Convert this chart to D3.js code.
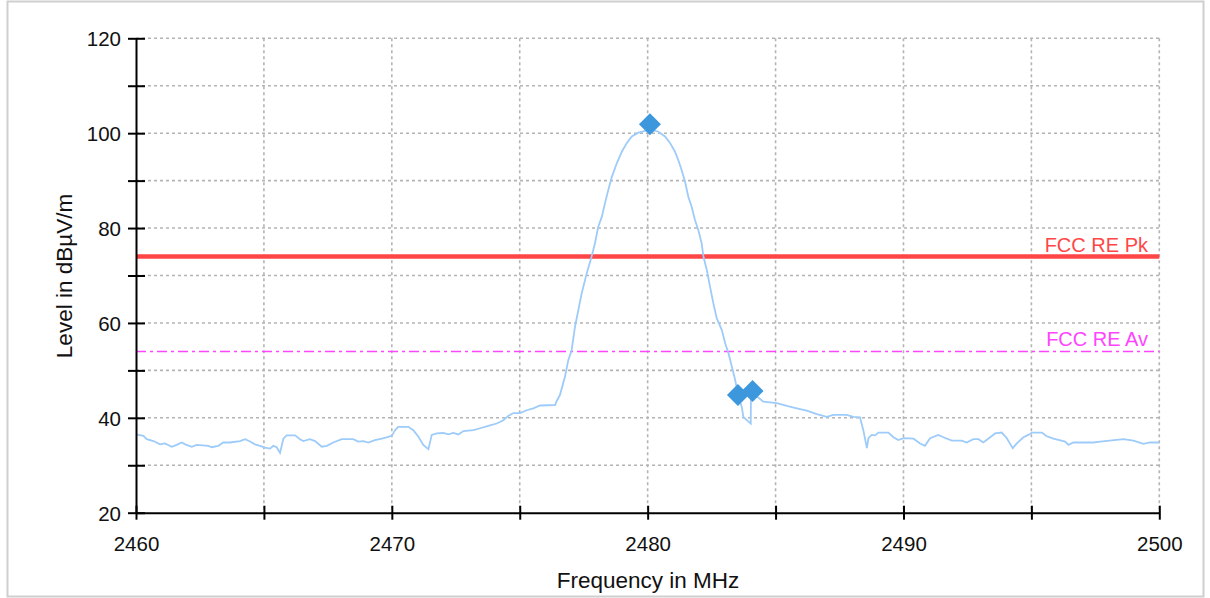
<!DOCTYPE html>
<html>
<head>
<meta charset="utf-8">
<script src="https://cdn.jsdelivr.net/npm/d3@7"></script>
<style>
  html, body { margin: 0; padding: 0; background: #fff; }
  svg { display: block; font-family: "Liberation Sans", Arial, sans-serif; }
</style>
</head>
<body>
<svg id="chart" width="1210" height="598"></svg>
<script>
// ---- Data ----
const traceFreq = [2460.0,2460.29,2460.42,2460.68,2460.94,2461.13,2461.40,2461.59,2461.79,2461.92,2462.18,2462.37,2462.83,2462.96,2463.22,2463.41,2463.67,2464.07,2464.26,2464.46,2464.65,2464.85,2465.04,2465.24,2465.37,2465.50,2465.63,2465.76,2465.89,2466.22,2466.41,2466.54,2466.80,2467.00,2467.26,2467.46,2467.71,2468.04,2468.49,2468.69,2468.89,2469.08,2469.34,2469.61,2469.86,2470.00,2470.13,2470.25,2470.65,2470.84,2471.04,2471.23,2471.43,2471.56,2471.76,2472.01,2472.21,2472.40,2472.60,2472.80,2473.19,2473.45,2473.77,2474.10,2474.36,2474.55,2474.75,2475.01,2475.27,2475.53,2475.79,2476.38,2476.44,2476.57,2476.77,2476.90,2477.03,2477.16,2477.29,2477.42,2477.62,2477.81,2477.94,2478.07,2478.21,2478.33,2478.46,2478.60,2478.79,2478.99,2479.18,2479.38,2479.64,2479.90,2480.09,2480.42,2480.68,2480.88,2481.07,2481.20,2481.33,2481.46,2481.59,2481.72,2481.85,2481.98,2482.11,2482.18,2482.31,2482.44,2482.57,2482.70,2482.90,2483.03,2483.16,2483.29,2483.42,2483.55,2483.68,2483.74,2483.94,2484.03,2484.04,2484.27,2484.52,2485.05,2485.44,2485.83,2486.22,2486.61,2487.00,2487.26,2487.78,2488.04,2488.30,2488.43,2488.57,2488.63,2488.76,2488.89,2489.02,2489.41,2489.61,2489.80,2490.00,2490.39,2490.65,2490.84,2491.04,2491.36,2491.56,2491.89,2492.28,2492.47,2492.73,2492.93,2493.12,2493.39,2493.58,2493.84,2494.04,2494.17,2494.27,2494.43,2494.69,2494.88,2495.02,2495.41,2495.60,2495.86,2496.32,2496.45,2496.64,2497.42,2497.69,2498.60,2498.99,2499.38,2499.64,2500.0];
const traceLevel = [36.5,36.2,35.5,35.1,34.4,34.6,33.9,34.3,34.8,34.4,33.9,34.3,34.1,33.8,34.1,34.8,34.8,35.1,35.5,35.0,34.4,34.1,33.7,33.5,34.1,33.8,32.6,35.6,36.3,36.3,35.5,35.1,35.5,35.1,33.9,34.1,34.8,35.5,35.5,35.0,35.1,34.8,35.3,35.6,36.0,36.2,37.4,38.1,38.1,37.4,36.0,34.3,33.4,36.4,36.7,36.8,36.5,36.8,36.5,37.2,37.4,37.8,38.3,38.8,39.5,40.4,41.0,41.0,41.6,42.0,42.6,42.7,43.5,44.8,48.7,52.2,54.3,59.2,62.7,66.2,70.5,74.0,76.8,80.3,82.4,85.2,88.0,90.8,93.6,96.1,97.9,99.3,100.1,100.5,100.8,100.3,99.3,97.9,96.1,94.3,92.2,89.8,86.6,84.5,81.7,79.6,76.8,74.0,71.2,67.6,64.1,61.0,58.5,55.7,53.6,50.8,48.0,44.5,42.3,40.2,39.2,38.8,45.9,44.5,43.4,43.1,42.5,42.0,41.5,40.8,40.2,40.6,40.6,40.2,40.1,37.4,33.6,35.7,36.4,36.3,36.9,36.9,35.9,35.3,35.7,35.6,34.6,34.1,35.7,36.4,35.9,35.2,35.2,34.8,35.5,35.5,34.8,35.9,36.7,36.9,35.7,34.5,33.6,34.6,35.9,36.4,36.9,36.9,36.1,35.6,35.0,34.3,34.8,34.8,35.0,35.5,35.2,34.5,34.8,34.8];
const markerFreq = [2480.09, 2483.53, 2484.10];
const markerLevel = [101.9, 44.8, 45.65];
const limitNames = ["FCC RE Pk", "FCC RE Av"];
const limitLevels = [74, 54];
const xTicks = [2460, 2465, 2470, 2475, 2480, 2485, 2490, 2495, 2500];
const xTickLabels = ["2460", "", "2470", "", "2480", "", "2490", "", "2500"];
const yTicks = [20, 30, 40, 50, 60, 70, 80, 90, 100, 110, 120];
const yTickLabels = ["20", "", "40", "", "60", "", "80", "", "100", "", "120"];
const xTitle = "Frequency in MHz";
const yTitle = "Level in dBµV/m";

// ---- Layout ----
const svg = d3.select("#chart");
const L = 136, R = 1159.3, T = 38.3, B = 512.7;
const x = d3.scaleLinear().domain([2460, 2500]).range([L, R]);
const y = d3.scaleLinear().domain([20, 120]).range([B, T]);

// outer frame
svg.append("rect").attr("x", 7.5).attr("y", 1.5).attr("width", 1196).attr("height", 595)
  .attr("fill", "#fff").attr("stroke", "#cfcfcf").attr("stroke-width", 2);

// grid
const grid = svg.append("g");
grid.selectAll("line.v").data(xTicks.slice(1)).join("line")
  .attr("x1", d => x(d)).attr("x2", d => x(d)).attr("y1", T).attr("y2", B)
  .attr("stroke", "#b4b4b4").attr("stroke-width", 1.6).attr("stroke-dasharray", "3,3");
grid.selectAll("line.h").data(yTicks.slice(1)).join("line")
  .attr("y1", d => y(d)).attr("y2", d => y(d)).attr("x1", L).attr("x2", R)
  .attr("stroke", "#b4b4b4").attr("stroke-width", 1.6).attr("stroke-dasharray", "3,3");

// limit lines
svg.append("line").attr("x1", L).attr("x2", R).attr("y1", y(limitLevels[0])).attr("y2", y(limitLevels[0]))
  .attr("stroke", "#ff4646").attr("stroke-width", 4.5);
svg.append("line").attr("x1", L).attr("x2", R).attr("y1", y(limitLevels[1])).attr("y2", y(limitLevels[1]))
  .attr("stroke", "#ff44ff").attr("stroke-width", 1.5).attr("stroke-dasharray", "10,4,3,4");
svg.append("text").attr("x", 1148).attr("y", y(limitLevels[0]) - 5).attr("text-anchor", "end")
  .attr("fill", "#ff4646").attr("font-size", 20).text(limitNames[0]);
svg.append("text").attr("x", 1148).attr("y", y(limitLevels[1]) - 5).attr("text-anchor", "end")
  .attr("fill", "#ff44ff").attr("font-size", 20).text(limitNames[1]);

// trace
const pts = traceFreq.map((f, i) => [f, traceLevel[i]]);
svg.append("path").datum(pts)
  .attr("d", d3.line().x(d => x(d[0])).y(d => y(d[1])))
  .attr("fill", "none").attr("stroke", "#9dcbfa").attr("stroke-width", 1.8);

// markers
const mk = markerFreq.map((f, i) => [f, markerLevel[i]]);
svg.selectAll("path.mk").data(mk).join("path")
  .attr("transform", d => `translate(${x(d[0])},${y(d[1])})`)
  .attr("d", "M0,-11L11,0L0,11L-11,0Z")
  .attr("fill", "#3d97dc");

// axes
const xAxis = svg.append("g").attr("transform", `translate(0,${B})`)
  .call(d3.axisBottom(x).tickValues(xTicks).tickFormat((d, i) => xTickLabels[i]).tickSize(8).tickSizeOuter(0));
const yAxis = svg.append("g").attr("transform", `translate(${L},0)`)
  .call(d3.axisLeft(y).tickValues(yTicks).tickFormat((d, i) => yTickLabels[i]).tickSize(8).tickSizeOuter(0));
[xAxis, yAxis].forEach(a => {
  a.select(".domain").attr("stroke", "#000").attr("stroke-width", 2);
  a.selectAll(".tick line").attr("stroke", "#000").attr("stroke-width", 2);
  a.selectAll(".tick text").attr("fill", "#111").attr("font-size", 20.5)
    .attr("font-family", "'Liberation Sans', Arial, sans-serif");
});
xAxis.selectAll(".tick line").attr("y1", -7).attr("y2", 7);
xAxis.selectAll(".tick text").attr("y", 24).attr("dy", "0.71em");
yAxis.selectAll(".tick line").attr("x1", -8).attr("x2", 9);
yAxis.selectAll(".tick text").attr("x", -15).attr("dy", "0.36em");

// titles
svg.append("text").attr("x", 648).attr("y", 588).attr("text-anchor", "middle")
  .attr("font-size", 22.5).attr("fill", "#111").text(xTitle);
svg.append("text").attr("transform", "translate(72,276) rotate(-90)").attr("text-anchor", "middle")
  .attr("font-size", 22.5).attr("fill", "#111").text(yTitle);
</script>
</body>
</html>
